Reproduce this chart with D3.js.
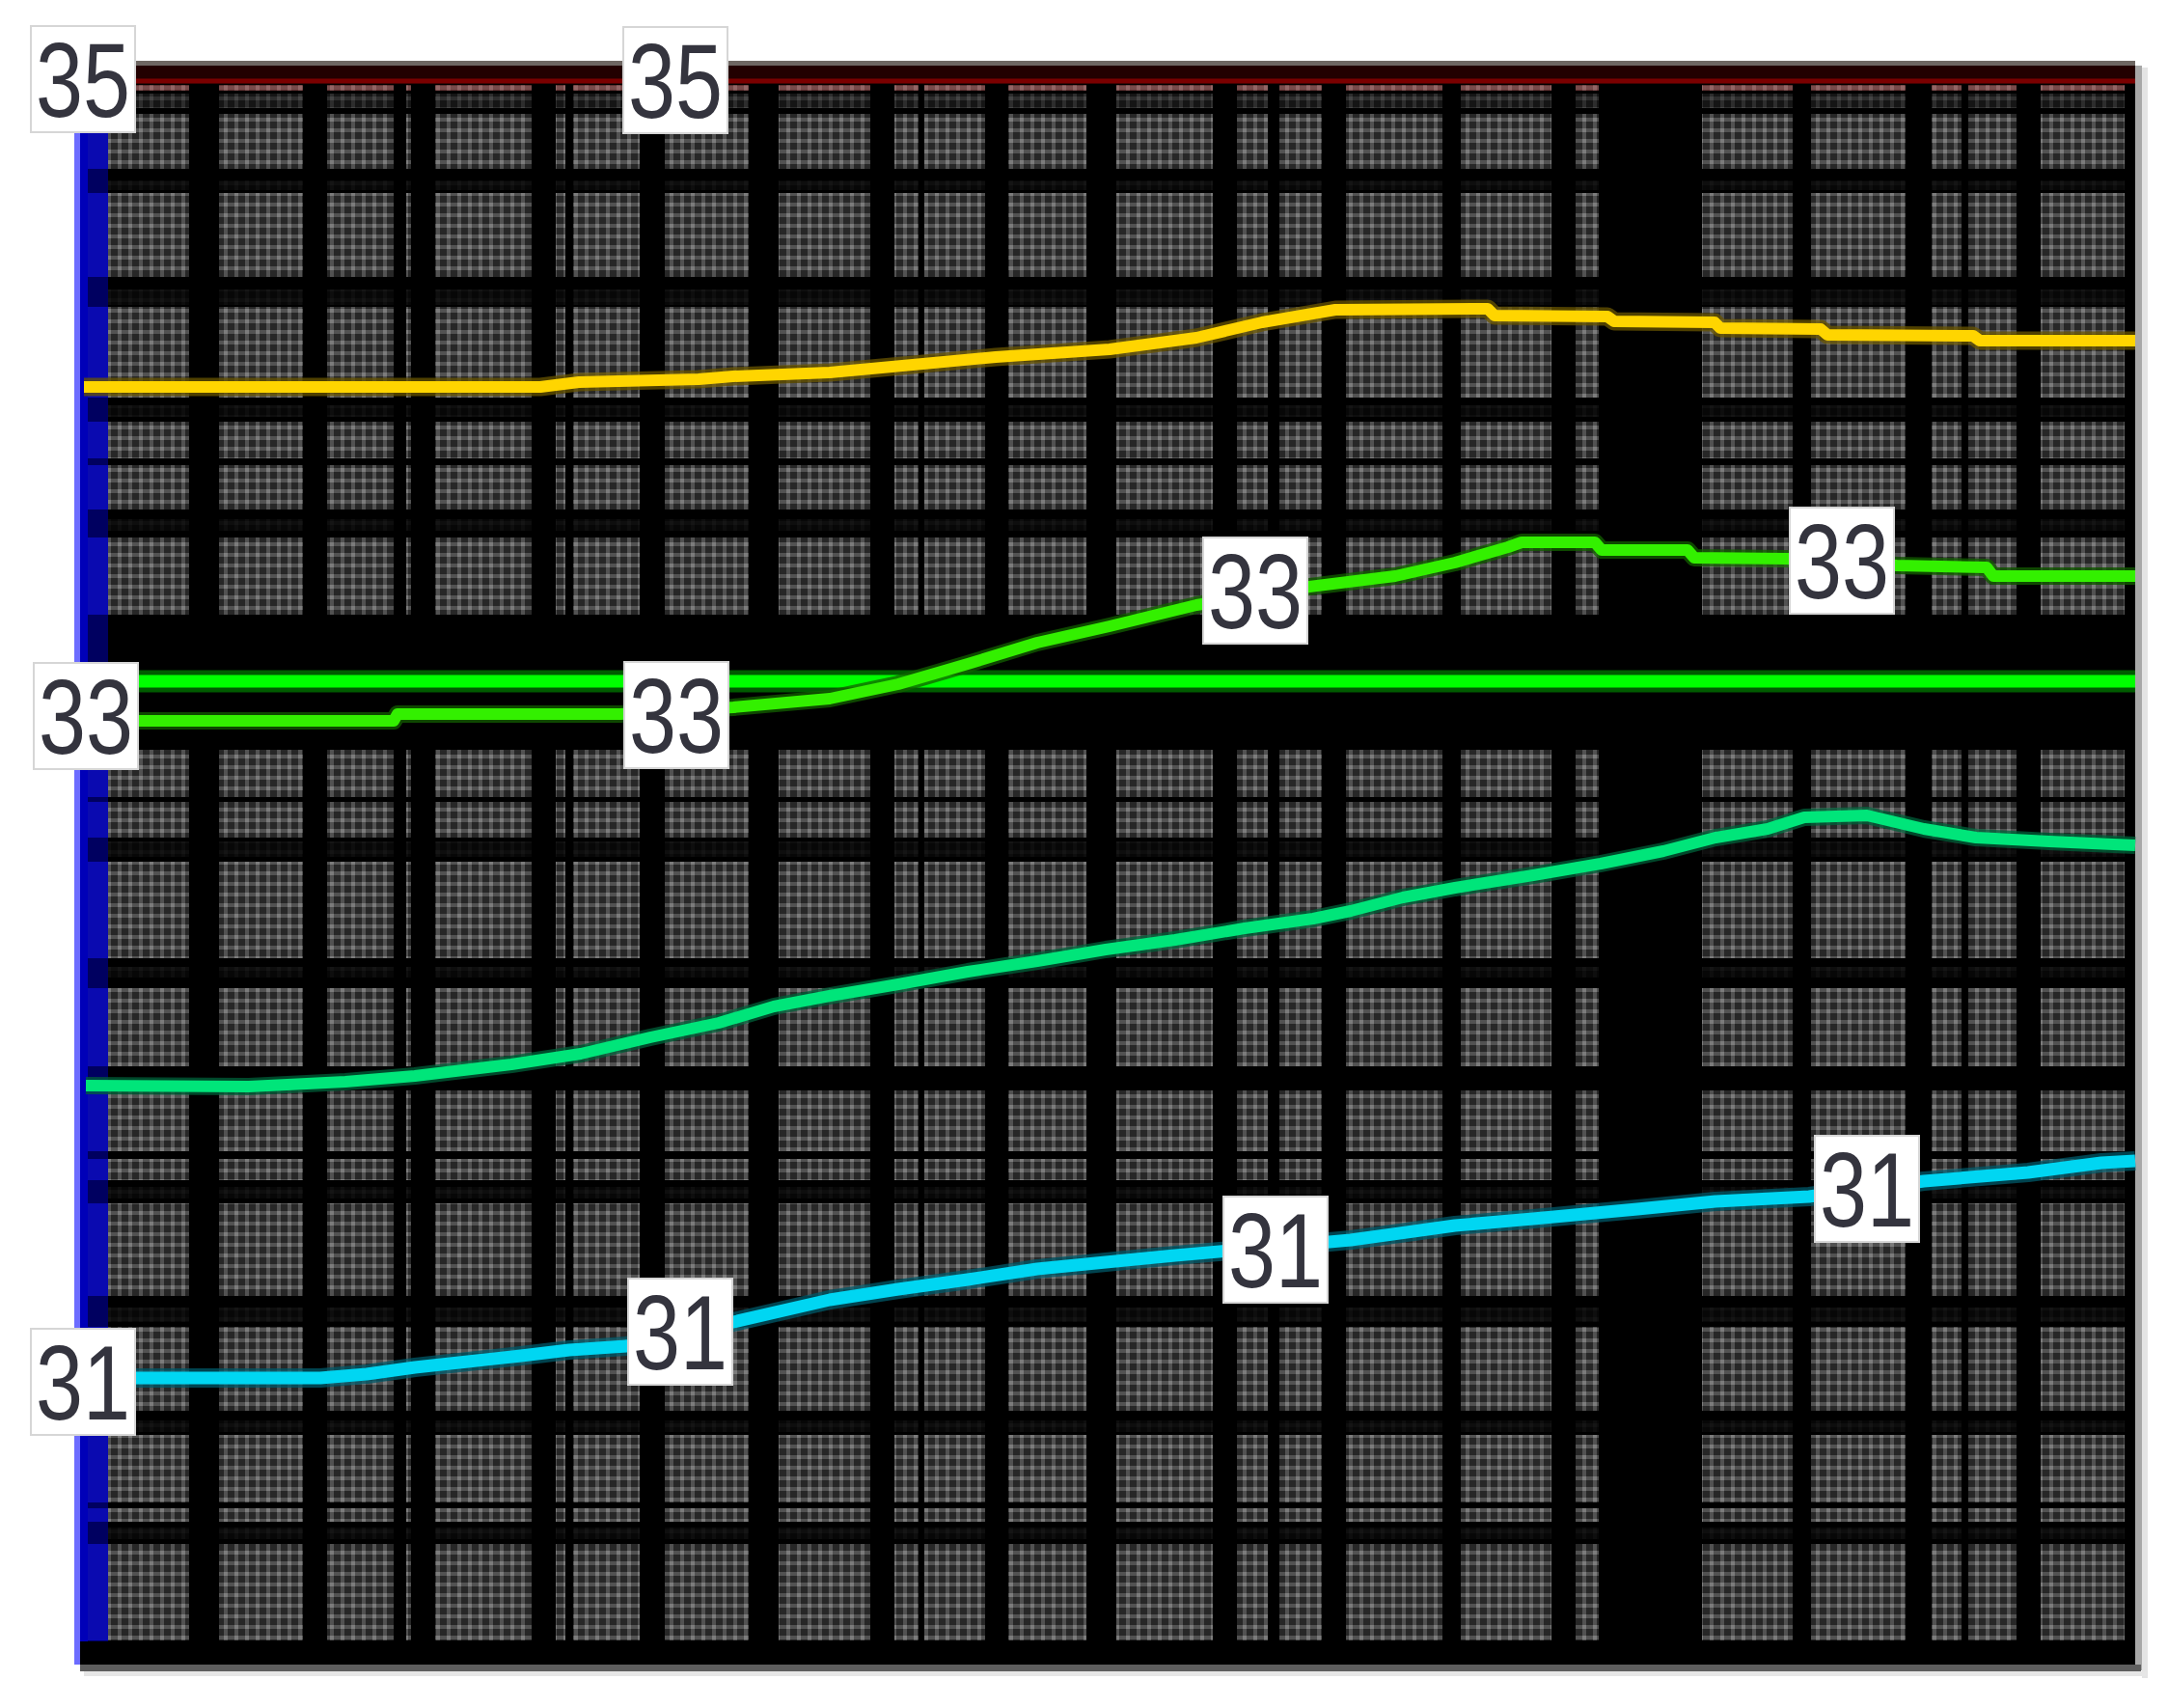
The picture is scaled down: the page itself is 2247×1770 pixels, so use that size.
<!DOCTYPE html>
<html>
<head>
<meta charset="utf-8">
<script src="https://cdn.jsdelivr.net/npm/d3@7"></script>
<style>
html, body { margin: 0; padding: 0; background: #ffffff; }
svg { display: block; }
</style>
</head>
<body>
<script>
// ---------------- DATA (x: distance units 0..213, y: depth units 0..166.1, top -> bottom) ----------------
const xDomain = [0, 213];
const yDomain = [0, 166.1];

// grey textured cell columns [x0, x1]
const colCells = [
  [2.9, 11.3], [14.4, 23.1], [25.6, 32.5], [33.8, 34.3], [36.8, 46.8], [49.3, 50.3],
  [51.1, 58.0], [60.6, 69.3], [72.4, 81.9], [84.4, 86.9], [87.5, 93.8], [96.2, 104.3],
  [107.4, 117.4], [119.9, 123.1], [124.3, 128.7], [131.2, 141.2], [143.1, 152.5],
  [155.0, 157.4], [168.1, 177.5], [179.4, 189.2], [191.9, 195.0], [195.7, 200.7], [203.2, 211.9]
];
// grey textured cell rows [y0, y1]
const rowCells = [
  [5.4, 11.1], [13.6, 22.3], [25.4, 34.8], [37.3, 41.1], [41.8, 46.4], [49.3, 57.3],
  [71.3, 76.2], [76.7, 80.4], [82.9, 92.9], [96.0, 104.1], [106.6, 112.9], [113.7, 115.9],
  [118.3, 127.9], [131.1, 139.8], [142.3, 149.3], [149.9, 151.3], [153.6, 163.6]
];
// faint (almost black) rows inside the dark bands
const faintRows = [
  [12.3, 13.3], [23.6, 25.2], [35.6, 36.8], [47.4, 48.6], [80.8, 82.4], [93.8, 94.9],
  [116.6, 117.8], [129.1, 130.6], [140.8, 142.0], [151.9, 153.1]
];
const topRow = [2.4, 3.0];
const dimRow = [3.3, 4.8];

// contour series
const seriesNames = ["red35", "yellow", "green33", "lime33", "teal", "cyan31"];
const red35 = [[0.4, 2.0], [213, 2.0]];
const yellow = [
  [0.4, 33.7], [47.7, 33.7], [51.7, 33.2], [64.1, 32.9], [67.7, 32.6], [77.7, 32.2],
  [86.3, 31.4], [94.9, 30.6], [106.7, 29.8], [115.7, 28.6], [122.5, 27.0], [130.1, 25.7],
  [145.9, 25.6], [146.6, 26.3], [158.3, 26.4], [159.0, 26.9], [169.4, 27.0], [170.0, 27.6],
  [180.4, 27.7], [181.1, 28.3], [196.2, 28.4], [196.9, 28.9], [213, 28.9]
];
const green33 = [[0.4, 64.2], [213, 64.2]];
const lime33 = [
  [0.4, 68.3], [32.5, 68.3], [32.9, 67.6], [56.0, 67.6], [67.7, 66.9], [77.7, 66.0],
  [84.8, 64.5], [92.0, 62.4], [99.2, 60.2], [106.7, 58.5], [115.7, 56.3], [127.4, 54.4],
  [136.3, 53.3], [142.5, 51.9], [148.0, 50.3], [149.4, 49.8], [157.0, 49.8], [157.7, 50.6],
  [166.6, 50.6], [167.3, 51.4], [176.9, 51.5], [188.3, 52.2], [197.6, 52.4], [198.3, 53.3],
  [213, 53.3]
];
const teal = [
  [0.6, 106.1], [17.5, 106.2], [27.5, 105.7], [34.7, 105.1], [44.7, 103.9], [51.9, 102.8],
  [59.1, 101.1], [66.2, 99.6], [71.9, 97.9], [77.7, 96.8], [84.8, 95.6], [92.0, 94.3],
  [99.2, 93.2], [106.3, 92.0], [113.5, 91.0], [120.7, 89.8], [127.8, 88.8], [131.7, 88.0],
  [137.1, 86.6], [142.5, 85.6], [150.6, 84.3], [157.6, 83.1], [164.1, 81.8], [169.5, 80.4],
  [174.9, 79.5], [178.7, 78.3], [185.2, 78.1], [191.1, 79.5], [196.5, 80.4], [204.1, 80.8],
  [213, 81.2]
];
const cyan31 = [
  [0.4, 136.4], [24.9, 136.4], [29.7, 136.0], [34.7, 135.3], [40.2, 134.7], [45.7, 134.1],
  [50.7, 133.5], [56.6, 133.1], [67.7, 130.6], [77.7, 128.3], [84.8, 127.2], [92.0, 126.2],
  [99.2, 125.1], [106.3, 124.4], [113.5, 123.7], [123.9, 122.8], [131.7, 122.1],
  [142.5, 120.6], [150.6, 119.9], [161.4, 118.9], [169.5, 118.1], [179.2, 117.6],
  [191.1, 116.0], [201.9, 115.1], [209.5, 114.1], [213, 113.9]
];

// contour labels
const labelText = ["35", "35", "33", "33", "33", "33", "31", "31", "31", "31"];
const labelX = [0.3, 61.7, 0.6, 61.8, 121.8, 182.6, 0.3, 62.2, 123.9, 185.2];
const labelY = [1.8, 1.9, 67.8, 67.7, 54.8, 51.7, 136.8, 131.6, 123.1, 116.8];

// ---------------- STYLES ----------------
const seriesStyle = {
  red35:   { color: "#7a0000", halo: "#2a0000", width: 5,  haloWidth: 5 },
  yellow:  { color: "#ffd500", halo: "#6a5500", width: 12, haloWidth: 19 },
  green33: { color: "#00ff00", halo: "#007a00", width: 13, haloWidth: 23 },
  lime33:  { color: "#33f000", halo: "#136000", width: 12, haloWidth: 18 },
  teal:    { color: "#00e57a", halo: "#00603a", width: 12, haloWidth: 18 },
  cyan31:  { color: "#00d6f2", halo: "#005a6a", width: 13, haloWidth: 20 }
};
const seriesData = { red35, yellow, green33, lime33, teal, cyan31 };

// ---------------- DRAW ----------------
const W = 2247, H = 1770;
const x = d3.scaleLinear().domain(xDomain).range([83, 2213]);
const y = d3.scaleLinear().domain(yDomain).range([64, 1725]);

const svg = d3.select("body").append("svg").attr("width", W).attr("height", H);
svg.append("rect").attr("width", W).attr("height", H).attr("fill", "#ffffff");

const defs = svg.append("defs");
const pat = defs.append("pattern").attr("id", "dots")
  .attr("patternUnits", "userSpaceOnUse").attr("width", 11).attr("height", 11);
pat.append("rect").attr("width", 11).attr("height", 11).attr("fill", "#272727");
pat.append("rect").attr("x", 1).attr("width", 4).attr("height", 11).attr("fill", "#525252");
pat.append("rect").attr("y", 1).attr("width", 11).attr("height", 4).attr("fill", "#525252");
pat.append("rect").attr("x", 1).attr("y", 1).attr("width", 4).attr("height", 4).attr("fill", "#7c7c7c");

const x0 = x(xDomain[0]), x1 = x(xDomain[1]);
const y0 = y(yDomain[0]), y1 = y(yDomain[1]);

// drop shadow of frame
svg.append("rect").attr("x", x1).attr("y", y0 + 4).attr("width", 7).attr("height", y1 - y0 + 2).attr("fill", "#a8a8a8");
svg.append("rect").attr("x", x1 + 7).attr("y", y0 + 6).attr("width", 6).attr("height", y1 - y0 + 8).attr("fill", "#e4e4e4");
svg.append("rect").attr("x", x0).attr("y", y1).attr("width", x1 - x0 + 6).attr("height", 7).attr("fill", "#5e5e5e");
svg.append("rect").attr("x", x0 + 4).attr("y", y1 + 7).attr("width", x1 - x0 + 8).attr("height", 5).attr("fill", "#e6e6e6");

// plot body
svg.append("rect").attr("x", x0).attr("y", y0).attr("width", x1 - x0).attr("height", y1 - y0).attr("fill", "#000000");

// textured cells
const cells = [];
rowCells.forEach(r => colCells.forEach(c => cells.push({ c, r, o: 1 })));
faintRows.forEach(r => colCells.forEach(c => cells.push({ c, r, o: 0.17 })));
colCells.forEach(c => cells.push({ c, r: dimRow, o: 0.55 }));
colCells.forEach(c => cells.push({ c, r: topRow, o: 1 }));

svg.append("g").selectAll("rect").data(cells).join("rect")
  .attr("x", d => x(d.c[0])).attr("y", d => y(d.r[0]))
  .attr("width", d => x(d.c[1]) - x(d.c[0])).attr("height", d => y(d.r[1]) - y(d.r[0]))
  .attr("fill", "url(#dots)").attr("opacity", d => d.o);

// pinkish tint of the top row
svg.append("g").selectAll("rect").data(colCells).join("rect")
  .attr("x", d => x(d[0])).attr("y", y(topRow[0]))
  .attr("width", d => x(d[1]) - x(d[0])).attr("height", y(topRow[1]) - y(topRow[0]))
  .attr("fill", "#c04040").attr("opacity", 0.35);

// blue left axis strip
const blueTop = 130;
const firstCellX = x(colCells[0][0]);
svg.append("rect").attr("x", x0 - 6).attr("y", blueTop).attr("width", 6).attr("height", y1 - blueTop).attr("fill", "#6c6cff");
svg.append("rect").attr("x", x0).attr("y", blueTop).attr("width", firstCellX - x0).attr("height", y1 - blueTop - 24).attr("fill", "#000060");
svg.append("rect").attr("x", x0).attr("y", blueTop).attr("width", 8).attr("height", y1 - blueTop - 24).attr("fill", "#0000b8");
svg.append("g").selectAll("rect").data(rowCells.concat([dimRow])).join("rect")
  .attr("x", x0 + 8).attr("y", d => Math.max(blueTop, y(d[0])))
  .attr("width", firstCellX - x0 - 8)
  .attr("height", d => Math.max(0, y(d[1]) - Math.max(blueTop, y(d[0]))))
  .attr("fill", "#0a0ab0");

// top frame edge: grey line + dark red band
svg.append("rect").attr("x", x0).attr("y", y0 - 1).attr("width", x1 - x0).attr("height", 5).attr("fill", "#6e6662");
svg.append("rect").attr("x", x0).attr("y", y0 + 4).attr("width", x1 - x0).attr("height", 14).attr("fill", "#220000");

// contour lines
const line = d3.line().x(d => x(d[0])).y(d => y(d[1]));
const gLines = svg.append("g").attr("fill", "none").attr("stroke-linejoin", "round");
seriesNames.forEach(name => {
  const st = seriesStyle[name];
  gLines.append("path").datum(seriesData[name]).attr("d", line)
    .attr("stroke", st.halo).attr("stroke-width", st.haloWidth).attr("stroke-opacity", 0.75);
  gLines.append("path").datum(seriesData[name]).attr("d", line)
    .attr("stroke", st.color).attr("stroke-width", st.width);
});

// contour labels
const labels = labelText.map((t, i) => ({ t, x: labelX[i], y: labelY[i] }));
const gl = svg.append("g").selectAll("g").data(labels).join("g")
  .attr("transform", d => `translate(${x(d.x)},${y(d.y)})`);
gl.append("rect").attr("x", -54).attr("y", -55).attr("width", 108).attr("height", 110)
  .attr("fill", "#ffffff").attr("stroke", "#d6d6d6").attr("stroke-width", 2);
gl.append("text").text(d => d.t)
  .attr("text-anchor", "middle").attr("y", 39)
  .attr("font-family", "'Liberation Sans', Arial, sans-serif")
  .attr("font-size", 110)
  .attr("textLength", 98).attr("lengthAdjust", "spacingAndGlyphs")
  .attr("fill", "#34343e");
</script>
</body>
</html>
